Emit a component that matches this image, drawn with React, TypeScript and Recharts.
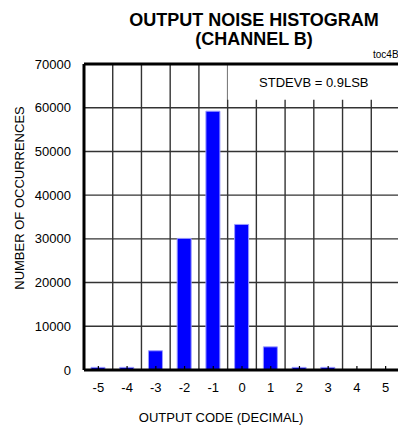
import { Bar, BarChart, CartesianGrid, Label, ReferenceArea, ReferenceLine, XAxis, YAxis } from "recharts";

const codes = ["-5", "-4", "-3", "-2", "-1", "0", "1", "2", "3", "4", "5"];
const occurrences = [600, 600, 4400, 30100, 59200, 33300, 5300, 600, 600, 0, 0];
const yTicks = [0, 10000, 20000, 30000, 40000, 50000, 60000, 70000];

const data = codes.map((code, i) => ({ code, count: occurrences[i] }));

const FONT = "'Liberation Sans', Arial, sans-serif";

function CodeTick(props: any) {
  const { x, y, payload } = props;
  return (
    <g>
      <line x1={x} y1={y} x2={x} y2={y - 4} stroke="#000" strokeWidth={1.2} />
      <text x={x} y={y + 21.5} textAnchor="middle" fontSize={13} fontFamily={FONT} fill="#000">
        {payload.value}
      </text>
    </g>
  );
}

// gridlines sit between the codes, not on them
const boundaryLines = ({ offset }: any) => {
  const step = offset.width / codes.length;
  return codes.slice(1).map((_, i) => offset.left + step * (i + 1));
};

export default function App() {
  return (
    <div style={{ position: "absolute", left: 0, top: 0, width: 398, height: 425, overflow: "hidden", background: "#fff", fontFamily: FONT }}>
      <div
        style={{
          position: "absolute",
          left: 104,
          top: 11,
          width: 300,
          textAlign: "center",
          fontWeight: "bold",
          fontSize: 18,
          lineHeight: "19px",
          color: "#000"
        }}
      >
        OUTPUT NOISE HISTOGRAM
        <br />
        (CHANNEL B)
      </div>
      <div style={{ position: "absolute", left: 373, top: 50, fontSize: 10, lineHeight: "10px", color: "#000" }}>toc4B</div>
      <BarChart width={410} height={425} data={data} margin={{ top: 64, right: 10, bottom: 0, left: 0 }}>
        <CartesianGrid stroke="#333" strokeWidth={1.4} verticalCoordinatesGenerator={boundaryLines} />
        <ReferenceArea
          x1="0"
          x2="5"
          y1={61800}
          y2={70000}
          fill="#fff"
          fillOpacity={1}
          stroke="none"
          ifOverflow="visible"
          label={{ value: "STDEVB = 0.9LSB", position: "center", fontSize: 13, fill: "#000", fontFamily: FONT }}
        />
        <XAxis
          dataKey="code"
          height={55}
          tickSize={0}
          tickMargin={0}
          tick={<CodeTick />}
          axisLine={{ stroke: "#000", strokeWidth: 3 }}
        >
          <Label value="OUTPUT CODE (DECIMAL)" position="center" dx={-21} dy={20} fontSize={13} fill="#000" fontFamily={FONT} />
        </XAxis>
        <YAxis
          width={84}
          domain={[0, 70000]}
          ticks={yTicks}
          tickSize={0}
          tickMargin={13}
          tick={{ fontSize: 13, fill: "#000", fontFamily: FONT }}
          axisLine={{ stroke: "#000", strokeWidth: 3 }}
        >
          <Label value="NUMBER OF OCCURRENCES" angle={-90} position="center" dx={-23} dy={-19} fontSize={13} fill="#000" fontFamily={FONT} />
        </YAxis>
        <ReferenceLine y={70000} stroke="#000" strokeWidth={3} />
        <Bar dataKey="count" fill="#0000ff" stroke="#9a9aff" strokeWidth={1} barSize={14} isAnimationActive={false} />
      </BarChart>
    </div>
  );
}
